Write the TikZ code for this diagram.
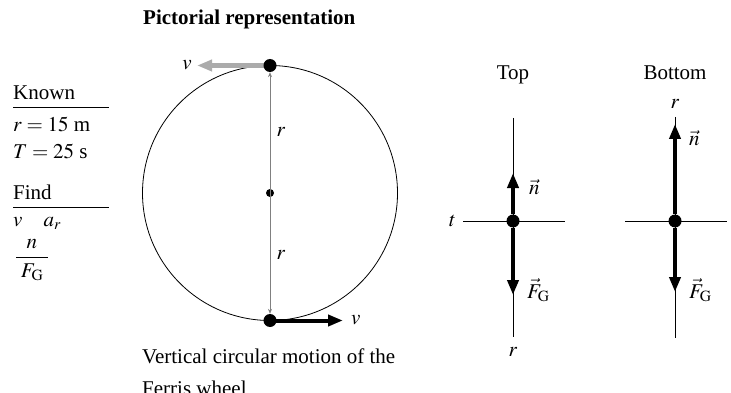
\documentclass[tikz,border=0pt]{standalone}
\usepackage{amsmath}
\usepackage{mathptmx}
\usepackage[no-math]{fontspec}
\setmainfont{Liberation Serif}
\usetikzlibrary{arrows.meta, positioning}

\tikzset{
  every node/.style={font=\fontsize{21}{25}\selectfont, inner sep=0pt},
  massdot/.style={circle, fill=black, inner sep=0pt, minimum size=#1},
  massdot/.default=13pt,
  force/.style={line width=4pt, -{Triangle[length=15pt, width=11pt]}},
  axisline/.style={line width=0.8pt},
  radline/.style={gray, line width=0.6pt, {Stealth[length=5pt, width=4pt]}-{Stealth[length=5pt, width=4pt]}},
}

\begin{document}
\begin{tikzpicture}[x=1pt, y=-1pt]
  \useasboundingbox (0,0) rectangle (731,393);
  \node[anchor=base west, font=\fontsize{21}{25}\selectfont\bfseries] (title) at (143,25) {Pictorial representation};

  % known / find
  \node[anchor=base west] (known) at (13,100) {Known};
  \draw[axisline] (13,107) -- (109,107);
  \node[anchor=base west] (rval) at (13,132) {$r = 15$ m};
  \node[anchor=base west] (Tval) at (13,158) {$T = 25$ s};
  \node[anchor=base west] (find) at (13,199) {Find};
  \draw[axisline] (13,207) -- (109,207);
  \node[anchor=base west] (unknowns) at (13,226) {$v\quad a_r$};
  \node (ratio) at (32,260) {$\dfrac{n}{\;F_{\mathrm{G}}\;}$};

  % ferris wheel
  \coordinate (hub) at (270,193);
  \draw[line width=0.8pt] (hub) circle [radius=127.5pt];
  \coordinate (vtopend) at (197,65.5);
  \coordinate (vbotend) at (343,320.5);
  \draw[force, line width=5pt, black!33] (270,65.5) -- (vtopend);
  \draw[force] (270,320.5) -- (vbotend);
  \node[massdot] (seattop) at (270,65.5) {};
  \node[massdot] (seatbot) at (270,320.5) {};
  \node[massdot=8pt] (hubdot) at (hub) {};
  \draw[radline] (seattop) -- (seatbot);
  \node at (281,132) {$r$};
  \node at (281,255) {$r$};
  \node[left=5pt of vtopend] (vtop) {$v$};
  \node[right=8pt of vbotend] (vbot) {$v$};
  \node[anchor=base west] (caption) at (142,363) {Vertical circular motion of the};
  \node[anchor=base west] (caption2) at (142,395) {Ferris wheel};

  % top
  \node[anchor=base] (toplbl) at (513,80) {Top};
  \coordinate (tN) at (513,118);
  \coordinate (tS) at (513,337);
  \coordinate (tW) at (463,221);
  \coordinate (tE) at (565,221);
  \draw[axisline] (tN) -- (tS);
  \draw[axisline] (tW) -- (tE);
  \node[massdot] (cartop) at (513,221) {};
  \coordinate (tnTip) at (513,173);
  \coordinate (tgTip) at (513,295);
  \draw[force] (cartop) -- (tnTip);
  \draw[force] (cartop) -- (tgTip);
  \node[anchor=west] (tn) at (529,187) {$\vec{n}$};
  \node[anchor=base west] (tg) at (527,298) {$\vec{F}_{\mathrm{G}}$};
  \node[left=7pt of tW] (tt) {$t$};
  \node (tr) at (513,352) {$r$};

  % bottom
  \node[anchor=base] (botlbl) at (675,80) {Bottom};
  \coordinate (bN) at (675,117);
  \coordinate (bS) at (675,338);
  \coordinate (bW) at (625,221);
  \coordinate (bE) at (727,221);
  \draw[axisline] (bN) -- (bS);
  \draw[axisline] (bW) -- (bE);
  \node[massdot] (carbot) at (675,221) {};
  \coordinate (bnTip) at (675,124);
  \coordinate (bgTip) at (675,292);
  \draw[force] (carbot) -- (bnTip);
  \draw[force] (carbot) -- (bgTip);
  \node[anchor=west] (bn) at (689,138) {$\vec{n}$};
  \node[anchor=base west] (bg) at (689,298) {$\vec{F}_{\mathrm{G}}$};
  \node (br) at (675,104) {$r$};
\end{tikzpicture}
\end{document}
